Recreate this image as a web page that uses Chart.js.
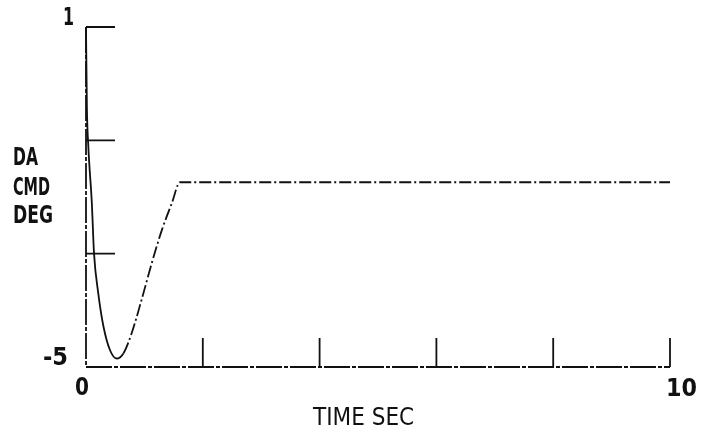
<!DOCTYPE html>
<html>
<head>
<meta charset="utf-8">
<script src="https://cdn.jsdelivr.net/npm/chart.js@4"></script>
<style>
  html, body { margin: 0; padding: 0; background: #fff; }
  #wrap { width: 716px; height: 434px; }
</style>
</head>
<body>
<div id="wrap"><canvas id="chart"></canvas></div>
<script>
// DA CMD response
const timeSec = [0, 0.015, 0.04, 0.1, 0.137, 0.21, 0.3, 0.41, 0.525, 0.64, 0.78, 0.95, 1.125, 1.3, 1.47, 1.61, 10];
const daCmdDeg = [1.0, -0.4, -1.11, -2.11, -2.99, -3.7, -4.29, -4.7, -4.85, -4.76, -4.41, -3.82, -3.17, -2.58, -2.11, -1.74, -1.74];

const yTicks = [1, -1, -3];
const xTicks = [2, 4, 6, 8, 10];
const FONT = '"DejaVu Sans Condensed", "Liberation Sans Narrow", "DejaVu Sans", sans-serif';

const points = timeSec.map((t, i) => ({ x: t, y: daCmdDeg[i] }));

// draws the old-style axes, inward ticks and labels
const axesPlugin = {
  id: "axesPlugin",
  beforeDatasetsDraw(chart) {
    const { ctx, scales: { x, y } } = chart;
    const x0 = x.getPixelForValue(0), y0 = y.getPixelForValue(-5);
    ctx.save();
    ctx.strokeStyle = "#111";
    ctx.lineWidth = 1.8;
    ctx.setLineDash([26, 2, 4, 2]);
    ctx.beginPath();
    ctx.moveTo(x0, y.getPixelForValue(1));
    ctx.lineTo(x0, y0);
    ctx.lineTo(x.getPixelForValue(10), y0);
    ctx.stroke();
    ctx.setLineDash([]);
    ctx.beginPath();
    yTicks.forEach(v => {
      const py = y.getPixelForValue(v);
      ctx.moveTo(x0, py);
      ctx.lineTo(x0 + 29, py);
    });
    xTicks.forEach(v => {
      const px = x.getPixelForValue(v);
      ctx.moveTo(px, y0);
      ctx.lineTo(px, y0 - 29);
    });
    ctx.stroke();
    ctx.restore();
  },
  afterDraw(chart) {
    const { ctx } = chart;
    ctx.save();
    ctx.fillStyle = "#111";
    ctx.textBaseline = "alphabetic";
    ctx.textAlign = "left";
    ctx.font = "bold 25px " + FONT;
    ctx.fillText("1", 63, 25, 11);
    ctx.fillText("-5", 43, 365, 30);
    ctx.fillText("0", 75, 395, 14);
    ctx.fillText("10", 666, 396, 31);
    ctx.fillText("DA", 13, 165, 25);
    ctx.fillText("CMD", 13, 195, 37);
    ctx.fillText("DEG", 13, 223, 40);
    ctx.font = "24px " + FONT;
    ctx.fillText("TIME SEC", 313, 425, 127);
    ctx.restore();
  }
};

new Chart(document.getElementById("chart"), {
  type: "scatter",
  data: {
    datasets: [{
      data: points,
      showLine: true,
      borderColor: "#111",
      borderWidth: 1.8,
      pointRadius: 0,
      cubicInterpolationMode: "monotone",
      clip: false,
      segment: {
        borderDash: ctx => ctx.p0.parsed.x >= 0.64 ? [12, 3, 2, 3] : undefined
      }
    }]
  },
  options: {
    responsive: true,
    maintainAspectRatio: false,
    animation: false,
    layout: { padding: { left: 86, right: 46, top: 27, bottom: 67 } },
    plugins: { legend: { display: false }, tooltip: { enabled: false } },
    scales: {
      x: { type: "linear", min: 0, max: 10, display: false },
      y: { type: "linear", min: -5, max: 1, display: false }
    }
  },
  plugins: [axesPlugin]
});
</script>
</body>
</html>
